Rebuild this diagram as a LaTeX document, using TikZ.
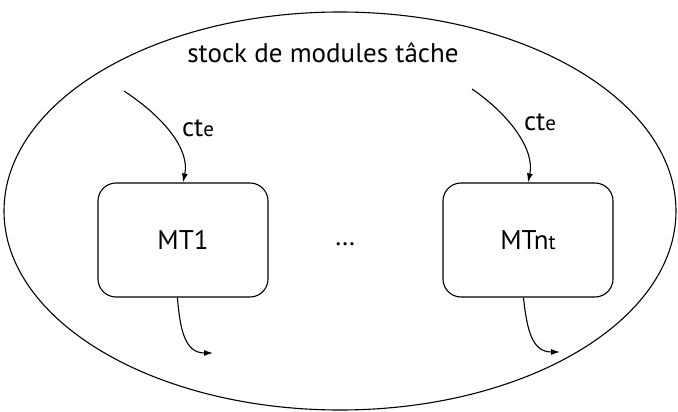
\documentclass[tikz,border=0pt]{standalone}
\usepackage{fontspec}
\setmainfont{PT Sans}
\usetikzlibrary{arrows.meta}
\begin{document}
\begin{tikzpicture}[x=1pt,y=-1pt,
  line width=1.1pt,
  modbox/.style={draw, rounded corners=18pt, minimum width=170pt, minimum height=114pt},
  flow/.style={-{Latex[length=9pt,width=6pt]}},
  lbl/.style={font=\fontsize{27}{30}\selectfont, inner sep=0pt},
  small/.style={}]
\useasboundingbox (0,0) rectangle (678,412);
\draw (340,211) ellipse [x radius=336, y radius=199];
\node[lbl] (title) at (323,53) {stock de modules tâche};
\node[modbox] (m1) at (183,240) {};
\node[modbox] (mn) at (528,240) {};
\node[lbl] (t1) at (m1.center) {MT1};
\node[lbl] (tn) at (mn.center) {MTn{\fontsize{21}{22}\selectfont t}};
\node[lbl] (dots) at (345,244) {\dots};
\coordinate (s1) at (124,91);
\coordinate (s2) at (472,89);
\coordinate (e1) at (213,353);
\coordinate (e2) at (560,352);
\draw[flow] (s1) .. controls (165,118) and (190,150) .. (m1.north);
\draw[flow] (s2) .. controls (510,115) and (535,150) .. (mn.north);
\node[lbl] (c1) at (198,128) {ct{\fontsize{21}{22}\selectfont e}};
\node[lbl] (c2) at (540,122) {ct{\fontsize{21}{22}\selectfont e}};
\draw[flow] (m1.south west) ++(80,0) coordinate (b1) .. controls (180,330) and (185,353) .. (e1);
\draw[flow] (mn.south west) ++(81,0) coordinate (b2) .. controls (527,330) and (532,352) .. (e2);
\end{tikzpicture}
\end{document}
